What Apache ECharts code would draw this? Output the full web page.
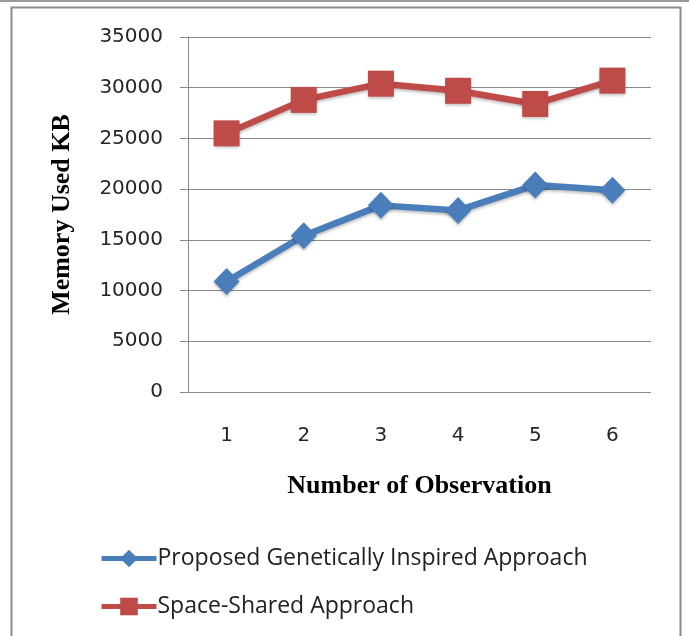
<!DOCTYPE html>
<html><head><meta charset="utf-8">
<script src="https://cdn.jsdelivr.net/npm/echarts@6/dist/echarts.min.js"></script>
<style>html,body{margin:0;padding:0;background:#fff}#c{width:689px;height:636px}</style>
</head><body><div id="c"></div>
<script>
var categories = ['1','2','3','4','5','6'];
var proposedGenetic = [10900, 15400, 18400, 17900, 20400, 19900];
var spaceShared = [25500, 28800, 30400, 29700, 28400, 30700];
var seriesNames = ['Proposed Genetically Inspired Approach', 'Space-Shared Approach'];

var chart = echarts.init(document.getElementById('c'));
var tickFont = 'DejaVu Sans';
chart.setOption({
  animation: false,
  backgroundColor: '#fff',
  graphic: [
    {type:'rect', shape:{x:0,y:0,width:689,height:2}, style:{fill:'#9a9a9a'}, silent:true},
    {type:'rect', shape:{x:11.5,y:7.5,width:669,height:640}, style:{fill:'none', stroke:'#8c8c8c', lineWidth:2}, silent:true}
  ],
  grid: {left:188, right:38, top:37, bottom:244, containLabel:false},
  xAxis: {
    type:'category', data:categories, boundaryGap:true,
    name:'Number of Observation', nameLocation:'middle', nameGap:81,
    nameTextStyle:{fontFamily:'Liberation Serif', fontWeight:'bold', fontSize:26, color:'#000'},
    axisLine:{show:false}, axisTick:{show:false},
    axisLabel:{fontFamily:tickFont, fontSize:20, color:'#262626', margin:34}
  },
  yAxis: {
    type:'value', min:0, max:35000, interval:5000,
    name:'Memory Used KB', nameLocation:'middle', nameGap:113, nameRotate:90,
    nameTextStyle:{fontFamily:'Liberation Serif', fontWeight:'bold', fontSize:26, color:'#000'},
    axisLine:{show:true, lineStyle:{color:'#8a8a8a', width:1}},
    axisTick:{show:true, length:8, lineStyle:{color:'#8a8a8a'}},
    axisLabel:{fontFamily:tickFont, fontSize:20, color:'#262626', margin:25, formatter:function(v){return String(v);}},
    splitLine:{lineStyle:{color:'#8a8a8a', width:1}}
  },
  legend: {
    orient:'vertical', left:99, top:547, padding:0, itemWidth:55, itemHeight:22, itemGap:25,
    lineStyle:{width:5},
    textStyle:{fontFamily:'Open Sans', fontSize:23, color:'#222', padding:[0,0,0,-4]},
    data: seriesNames
  },
  series: [
    {name:seriesNames[0], type:'line', data:proposedGenetic, symbol:'diamond', symbolSize:[26,27],
     lineStyle:{color:'#4a7ebb', width:6.5, shadowColor:'rgba(0,0,0,0.25)', shadowBlur:3, shadowOffsetY:2},
     itemStyle:{color:'#4a7ebb', shadowColor:'rgba(0,0,0,0.25)', shadowBlur:3, shadowOffsetY:2}},
    {name:seriesNames[1], type:'line', data:spaceShared, symbol:'rect', symbolSize:[26,26],
     lineStyle:{color:'#be4b48', width:6.5, shadowColor:'rgba(0,0,0,0.25)', shadowBlur:3, shadowOffsetY:2},
     itemStyle:{color:'#be4b48', shadowColor:'rgba(0,0,0,0.25)', shadowBlur:3, shadowOffsetY:2}}
  ]
});
</script></body></html>
